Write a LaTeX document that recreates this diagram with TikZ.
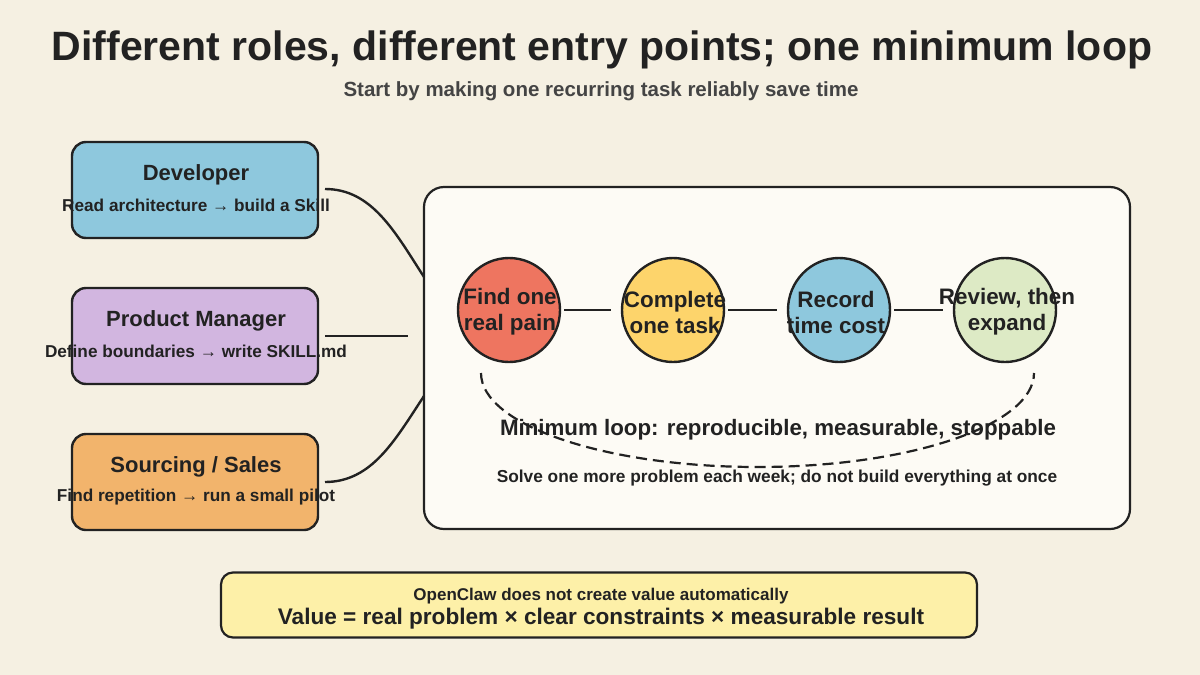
\documentclass[tikz,border=0pt]{standalone}
\usepackage{fontspec}
\setmainfont{Liberation Sans}
\newfontfamily\cond{Liberation Sans}
\usetikzlibrary{shapes.geometric}
\definecolor{bg}{HTML}{F5F0E2}
\definecolor{panel}{HTML}{FDFBF5}
\definecolor{ink}{HTML}{222222}
\definecolor{devc}{HTML}{8EC8DD}
\definecolor{pmc}{HTML}{D2B6E0}
\definecolor{salc}{HTML}{F2B46C}
\definecolor{redc}{HTML}{EE7560}
\definecolor{yelc}{HTML}{FDD46B}
\definecolor{bluc}{HTML}{8EC8DD}
\definecolor{grnc}{HTML}{DDEAC5}
\definecolor{notec}{HTML}{FDF0A8}
\definecolor{subc}{HTML}{444444}
\begin{document}
\begin{tikzpicture}[x=1pt,y=-1pt,
  rolebox/.style={draw=ink,line width=2.4pt,rounded corners=14pt,minimum width=246pt,minimum height=96pt,inner sep=0pt},
  roletitle/.style={font=\cond\bfseries\fontsize{22}{25}\selectfont,text=ink},
  rolesub/.style={font=\cond\bfseries\fontsize{17.2}{20}\selectfont,text=ink},
  stepcirc/.style={draw=ink,line width=2.4pt,ellipse,minimum width=102pt,minimum height=104pt,inner sep=0pt},
  steptext/.style={font=\cond\bfseries\fontsize{22.4}{26}\selectfont,text=ink,align=center},
  link/.style={draw=ink,line width=2.4pt},
]
\fill[bg] (0,0) rectangle (1200,675);
\useasboundingbox (0,0) rectangle (1200,675);

\node[font=\cond\bfseries\fontsize{41}{45}\selectfont,text=ink] (title) at (602,50) {Different roles, different entry points; one minimum loop};
\node[font=\cond\bfseries\fontsize{20.5}{23}\selectfont,text=subc] (subtitle) at (601,91) {Start by making one recurring task reliably save time};

% role boxes
\node[rolebox,fill=devc] (dev) at (195,190) {};
\node[roletitle] (devt) at (196,175) {Developer};
\node[rolesub] (devs) at (196,205) {Read architecture → build a Skill};

\node[rolebox,fill=pmc] (pm) at (195,336) {};
\node[roletitle] (pmt) at (196,321) {Product Manager};
\node[rolesub] (pms) at (196,351) {Define boundaries → write SKILL.md};

\node[rolebox,fill=salc] (sal) at (195,482) {};
\node[roletitle] (salt) at (196,467) {Sourcing / Sales};
\node[rolesub] (sals) at (196,497) {Find repetition → run a small pilot};

% panel
\node[draw=ink,line width=2.2pt,fill=panel,rounded corners=20pt,minimum width=706pt,minimum height=342pt,inner sep=0pt] (panel) at (777,358) {};

% connectors
\coordinate (devout) at (325,189);
\coordinate (pmout) at (325,336);
\coordinate (salout) at (325,482);
\coordinate (pin1) at (424,277);
\coordinate (pin2) at (408,336);
\coordinate (pin3) at (424,396);
\draw[link] (devout) .. controls (372,189) and (395,232) .. (pin1);
\draw[link] (pmout) -- (pin2);
\draw[link] (salout) .. controls (372,482) and (395,440) .. (pin3);

% steps
\node[stepcirc,fill=redc] (s1) at (509,310) {};
\node[stepcirc,fill=yelc] (s2) at (673,310) {};
\node[stepcirc,fill=bluc] (s3) at (839,310) {};
\node[stepcirc,fill=grnc] (s4) at (1005,310) {};
\node[steptext] (s1t) at (510,312) {Find one\\real pain};
\node[steptext] (s2t) at (675,312) {Complete\\one task};
\node[steptext] (s3t) at (836,312) {Record\\time cost};
\node[steptext] (s4t) at (1007,312) {Review, then\\expand};
\draw[link] ([xshift=3pt]s1.east) -- ([xshift=-10pt]s2.west);
\draw[link] ([xshift=3pt]s2.east) -- ([xshift=-10pt]s3.west);
\draw[link] ([xshift=3pt]s3.east) -- ([xshift=-10pt]s4.west);

% dashed loop
\coordinate (lstart) at (481,373);
\coordinate (lend) at (1034,373);
\draw[draw=ink,line width=2.2pt,dash pattern=on 11pt off 6pt] (lstart) arc[start angle=180,end angle=360,x radius=276.5pt,y radius=94pt];

\node[font=\cond\bfseries\fontsize{22.3}{25}\selectfont,text=ink] (loopt) at (778,430) {Minimum loop: reproducible, measurable, stoppable};
\node[font=\cond\bfseries\fontsize{17.3}{20}\selectfont,text=ink] (loops) at (777,478) {Solve one more problem each week; do not build everything at once};

% bottom note
\node[draw=ink,line width=2.2pt,fill=notec,rounded corners=12pt,minimum width=756pt,minimum height=65pt,inner sep=0pt] (note) at (599,605) {};
\node[font=\cond\bfseries\fontsize{17}{20}\selectfont,text=ink] (note1) at (601,596) {OpenClaw does not create value automatically};
\node[font=\cond\bfseries\fontsize{22.6}{25}\selectfont,text=ink] (note2) at (601,619) {Value = real problem × clear constraints × measurable result};
\end{tikzpicture}
\end{document}
